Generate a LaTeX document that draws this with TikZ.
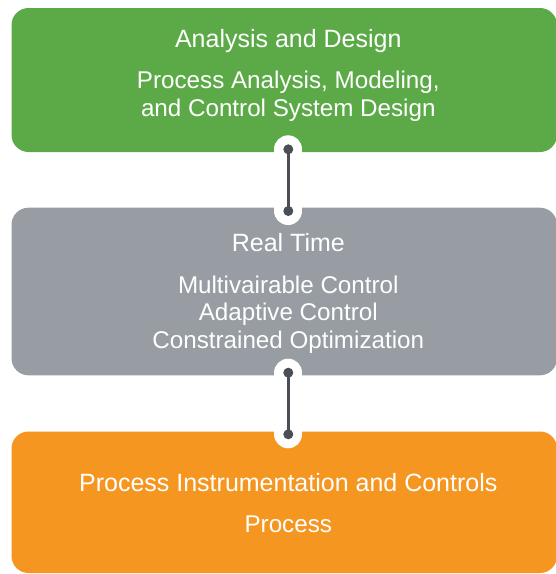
\documentclass[tikz,border=0pt]{standalone}
\usepackage{fontspec}
\setmainfont{Liberation Sans}
\definecolor{stagegreen}{HTML}{5CAA47}
\definecolor{stagegray}{HTML}{979DA3}
\definecolor{stageorange}{HTML}{F59620}
\definecolor{wiregray}{HTML}{4A4F55}
\begin{document}
\begin{tikzpicture}[x=1pt,y=-1pt,
	stage/.style={rounded corners=17pt, minimum width=545.5pt, inner sep=0pt},
	head/.style={text=white, anchor=base, inner sep=0pt, font=\fontsize{25}{28}\selectfont},
	body/.style={text=white, anchor=base, inner sep=0pt, align=center, font=\fontsize{24.2}{27.3}\selectfont},
	joint/.style={circle, fill=wiregray, inner sep=0pt, minimum size=10pt}]
	\fill[white] (0,0) rectangle (556,574);
	\useasboundingbox (0,0) rectangle (556,574);
	
	% the three stages
	\node[stage, fill=stagegreen, minimum height=144pt] (design) at (284.25,80) {};
	\node[stage, fill=stagegray, minimum height=167.6pt] (realtime) at (284.25,291.5) {};
	\node[stage, fill=stageorange, minimum height=141.5pt] (process) at (284.25,502.25) {};
	
	% body nodes sit on the baseline of their last line
	\node[head] (designhead) at (288.3,47.7) {Analysis and Design};
	\node[body] (designbody) at (288.3,116) {Process Analysis, Modeling,\\and Control System Design};
	\node[head] (realtimehead) at (288.3,251.7) {Real Time};
	\node[body] (realtimebody) at (288.3,348) {Multivairable Control\\Adaptive Control\\Constrained Optimization};
	\node[head] (processhead) at (288.3,491.7) {Process Instrumentation and Controls};
	\node[body] (processbody) at (288.3,532) {Process};
	
	% links between stages
	\coordinate (up1) at (288.3,149.3);
	\coordinate (dn1) at (288.3,211);
	\coordinate (up2) at (288.3,372.7);
	\coordinate (dn2) at (288.3,434.3);
	\foreach \a/\b in {up1/dn1,up2/dn2}{
		\draw[white, line width=28pt, line cap=round] (\a) -- (\b);
		\draw[wiregray, line width=3pt] (\a) -- (\b);
		\node[joint] (\a dot) at (\a) {};
		\node[joint] (\b dot) at (\b) {};}
\end{tikzpicture}
\end{document}
